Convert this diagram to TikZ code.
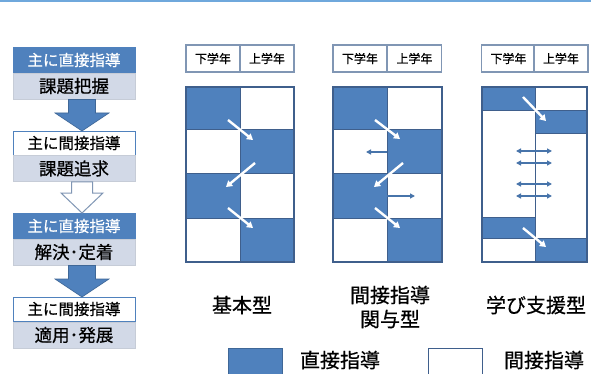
\documentclass[tikz,border=0pt]{standalone}
\usepackage{fontspec}
\setmainfont{Noto Sans CJK JP}[FakeBold=0.6,AutoFakeBold=0.6]
\usetikzlibrary{arrows.meta}
\definecolor{dblue}{HTML}{4F81BD}
\definecolor{bord}{HTML}{3F5F8C}
\definecolor{hbord}{HTML}{8096B4}
\definecolor{subfill}{HTML}{D2D9E7}
\definecolor{topline}{HTML}{6FA8DC}
\newcommand{\farrowshape}[6]{% style, cx, yt, yh, yb, hw
  \draw[#1] (#2-#6*0.5,#3) -- (#2+#6*0.5,#3) -- (#2+#6*0.5,#4) -- (#2+#6,#4) -- (#2,#5) -- (#2-#6,#4) -- (#2-#6*0.5,#4) -- cycle;}
\begin{document}
\begin{tikzpicture}[x=1pt,y=-1pt,
  hdrD/.style={draw=dblue, fill=dblue, text=white, minimum width=122pt, minimum height=25pt, inner sep=0pt, font=\fontsize{15.5}{16}\selectfont},
  hdrI/.style={draw=dblue, fill=white, text=black, minimum width=122pt, minimum height=24pt, inner sep=0pt, font=\fontsize{15.5}{16}\selectfont},
  subbox/.style={draw=subfill!85!gray, fill=subfill, text=black, minimum width=122pt, minimum height=26pt, inner sep=0pt, font=\fontsize{17.5}{18}\selectfont},
  yearbox/.style={draw=hbord, line width=1.1pt, fill=white, minimum width=54pt, minimum height=27pt, inner sep=0pt, font=\fontsize{12}{12}\selectfont},
  gridframe/.style={draw=bord, line width=1.4pt},
  warrow/.style={white, line width=2.4pt, -{Triangle[length=6pt,width=7pt]}},
  barrow/.style={dblue!90!black, line width=1.6pt, -{Triangle[length=5pt,width=5pt]}},
  bdarrow/.style={dblue!90!black, line width=1.6pt, {Triangle[length=5pt,width=5pt]}-{Triangle[length=5pt,width=5pt]}},
  lbl/.style={font=\fontsize{20}{22}\selectfont, inner sep=0pt},
]
\useasboundingbox (0,0) rectangle (591,374);
\fill[white] (0,0) rectangle (591,374);
\draw[topline, line width=2pt] (0,1) -- (591,1);

% ---- left flow ----
\node[hdrD] (h1) at (74,60) {主に直接指導};
\node[subbox] (s1) at (74,86) {課題把握};
\node[hdrI] (h2) at (74,143) {主に間接指導};
\node[subbox] (s2) at (74,168.5) {課題追求};
\node[hdrD] (h3) at (74,226) {主に直接指導};
\node[subbox] (s3) at (74,252) {解決･定着};
\node[hdrI] (h4) at (74,309) {主に間接指導};
\node[subbox] (s4) at (74,335) {適用･発展};

\farrowshape{fill=dblue, draw=dblue!80!black, line width=0.6pt}{82}{99.5}{113}{131}{27}
\farrowshape{fill=white, draw=hbord, line width=1pt}{82}{182}{193}{213}{21}
\farrowshape{fill=dblue, draw=dblue!80!black, line width=0.6pt}{82}{265.5}{279}{297}{27}

% ---- grid 1 : 基本型 ----
\node[yearbox] (a1) at (213,58.5) {下学年};
\node[yearbox] (a2) at (267,58.5) {上学年};
\fill[dblue] (186,87) rectangle (240,130);
\fill[dblue] (240,130) rectangle (294,174);
\fill[dblue] (186,174) rectangle (240,218);
\fill[dblue] (240,218) rectangle (294,262);
\draw[bord, line width=1pt] (186,130) -- (294,130) (186,174) -- (294,174) (186,218) -- (294,218) (240,87) -- (240,262);
\draw[gridframe] (186,87) rectangle (294,262);
\coordinate (a1s) at (228,120); \coordinate (a1e) at (253,140);
\coordinate (a2s) at (255,163); \coordinate (a2e) at (226,187);
\coordinate (a3s) at (228,208); \coordinate (a3e) at (253,228);
\draw[warrow] (a1s) -- (a1e);
\draw[warrow] (a2s) -- (a2e);
\draw[warrow] (a3s) -- (a3e);

% ---- grid 2 : 間接指導関与型 ----
\node[yearbox] (b1) at (360,58.5) {下学年};
\node[yearbox] (b2) at (414.5,58.5) {上学年};
\fill[dblue] (333,87) rectangle (387,130);
\fill[dblue] (387,130) rectangle (442,174);
\fill[dblue] (333,174) rectangle (387,218);
\fill[dblue] (387,218) rectangle (442,262);
\draw[bord, line width=1pt] (333,130) -- (442,130) (333,174) -- (442,174) (333,218) -- (442,218) (387,87) -- (387,262);
\draw[gridframe] (333,87) rectangle (442,262);
\coordinate (b1s) at (375,120); \coordinate (b1e) at (400,139);
\coordinate (b2s) at (403,163); \coordinate (b2e) at (374,187);
\coordinate (b3s) at (375,208); \coordinate (b3e) at (400,228);
\coordinate (bl1) at (387,152); \coordinate (bl2) at (366,152);
\coordinate (br1) at (387,196); \coordinate (br2) at (415,196);
\draw[warrow] (b1s) -- (b1e);
\draw[warrow] (b2s) -- (b2e);
\draw[warrow] (b3s) -- (b3e);
\draw[barrow] (bl1) -- (bl2);
\draw[barrow] (br1) -- (br2);

% ---- grid 3 : 学び支援型 ----
\node[yearbox] (c1) at (508.5,58.5) {下学年};
\node[yearbox] (c2) at (561,58.5) {上学年};
\fill[dblue] (482,87) rectangle (535,111);
\fill[dblue] (535,111) rectangle (587,134);
\fill[dblue] (482,217) rectangle (535,238);
\fill[dblue] (535,238) rectangle (587,262);
\draw[bord, line width=1pt] (482,111) -- (587,111) (535,134) -- (587,134) (482,217) -- (535,217) (482,238) -- (587,238) (535,87) -- (535,262);
\draw[gridframe] (482,87) rectangle (587,262);
\coordinate (c1s) at (523,97); \coordinate (c1e) at (546,121);
\coordinate (c2s) at (523,228); \coordinate (c2e) at (546,247);
\draw[warrow] (c1s) -- (c1e);
\draw[warrow] (c2s) -- (c2e);
\foreach \yy [count=\i] in {151,163,184,196}{
  \coordinate (dl\i) at (516,\yy); \coordinate (dr\i) at (552,\yy);
  \draw[bdarrow] (dl\i) -- (dr\i);
}

% ---- labels ----
\node[lbl] (t1) at (242,305) {基本型};
\node[lbl] (t2a) at (390,295) {間接指導};
\node[lbl] (t2b) at (390,319) {関与型};
\node[lbl] (t3) at (536,305) {学び支援型};

% ---- legend ----
\fill[dblue] (228,348) rectangle (282,380);
\draw[dblue!80!black, line width=1pt] (228,348) rectangle (282,380);
\node[lbl] (l1) at (340,360) {直接指導};
\draw[bord, line width=1pt] (428,348) rectangle (482,380);
\node[lbl] (l2) at (544,360) {間接指導};
\end{tikzpicture}
\end{document}
